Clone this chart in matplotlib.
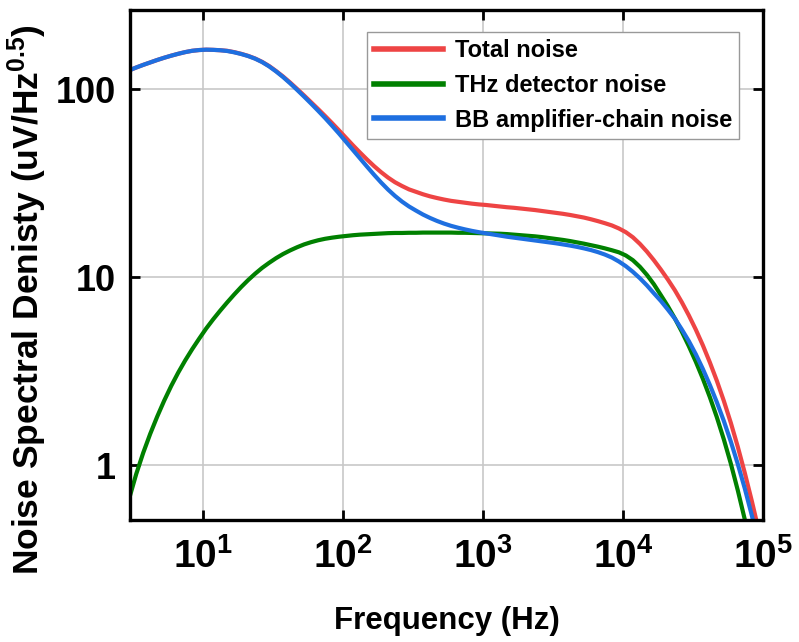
import numpy as np
import matplotlib
matplotlib.use("Agg")
import matplotlib.pyplot as plt

plt.rcParams['font.family'] = ['Liberation Sans', 'DejaVu Sans']
plt.rcParams['font.weight'] = 'bold'
plt.rcParams['mathtext.fontset'] = 'custom'
plt.rcParams['mathtext.rm'] = 'Liberation Sans:bold'
plt.rcParams['mathtext.bf'] = 'Liberation Sans:bold'
plt.rcParams['mathtext.default'] = 'bf'

# values, stored as log10 (Hz and uV/Hz^0.5)
log_freq = [0.47, 0.52, 0.57, 0.62, 0.67, 0.72, 0.77, 0.82, 0.87, 0.92,
            0.97, 1.02, 1.07, 1.12, 1.17, 1.22, 1.27, 1.32, 1.37, 1.42,
            1.47, 1.52, 1.57, 1.62, 1.67, 1.72, 1.77, 1.82, 1.87, 1.92,
            1.97, 2.02, 2.07, 2.12, 2.17, 2.22, 2.27, 2.32, 2.37, 2.42,
            2.47, 2.52, 2.57, 2.62, 2.67, 2.72, 2.77, 2.82, 2.87, 2.92,
            2.97, 3.02, 3.07, 3.12, 3.17, 3.22, 3.27, 3.32, 3.37, 3.42,
            3.47, 3.52, 3.57, 3.62, 3.67, 3.72, 3.77, 3.82, 3.87, 3.92,
            3.97, 4.02, 4.07, 4.12, 4.17, 4.22, 4.27, 4.32, 4.37, 4.42,
            4.47, 4.52, 4.57, 4.62, 4.67, 4.72, 4.77, 4.82, 4.87, 4.92,
            4.97, 5.00]

log_total = [2.102, 2.117, 2.131, 2.144, 2.157, 2.169, 2.180, 2.190, 2.199, 2.206,
             2.210, 2.212, 2.211, 2.209, 2.206, 2.199, 2.190, 2.179, 2.165, 2.147,
             2.125, 2.098, 2.069, 2.037, 2.003, 1.968, 1.932, 1.896, 1.859, 1.821,
             1.782, 1.742, 1.702, 1.664, 1.627, 1.592, 1.560, 1.531, 1.506, 1.486,
             1.468, 1.455, 1.442, 1.431, 1.422, 1.414, 1.407, 1.402, 1.397, 1.392,
             1.388, 1.385, 1.381, 1.377, 1.373, 1.370, 1.366, 1.362, 1.358, 1.353,
             1.348, 1.343, 1.338, 1.332, 1.325, 1.318, 1.309, 1.299, 1.288, 1.276,
             1.260, 1.240, 1.213, 1.178, 1.137, 1.091, 1.041, 0.988, 0.931, 0.867,
             0.797, 0.721, 0.638, 0.547, 0.449, 0.342, 0.225, 0.097, -0.042, -0.191,
             -0.350, -0.449]

log_thz = [-0.178, -0.048, 0.065, 0.166, 0.258, 0.343, 0.421, 0.492, 0.557, 0.617,
           0.673, 0.727, 0.776, 0.822, 0.866, 0.908, 0.948, 0.985, 1.019, 1.050,
           1.077, 1.102, 1.124, 1.143, 1.160, 1.175, 1.187, 1.197, 1.205, 1.211,
           1.216, 1.220, 1.224, 1.227, 1.229, 1.231, 1.233, 1.235, 1.236, 1.236,
           1.237, 1.237, 1.238, 1.238, 1.238, 1.238, 1.238, 1.237, 1.237, 1.236,
           1.235, 1.234, 1.233, 1.232, 1.230, 1.227, 1.224, 1.221, 1.218, 1.214,
           1.209, 1.204, 1.199, 1.193, 1.186, 1.179, 1.171, 1.163, 1.154, 1.144,
           1.133, 1.116, 1.091, 1.056, 1.013, 0.963, 0.905, 0.846, 0.781, 0.710,
           0.633, 0.550, 0.460, 0.362, 0.255, 0.137, 0.008, -0.135, -0.290, -0.455,
           -0.630, -0.738]

log_bb = [2.102, 2.117, 2.131, 2.144, 2.157, 2.169, 2.180, 2.190, 2.199, 2.206,
          2.210, 2.212, 2.211, 2.209, 2.205, 2.198, 2.189, 2.178, 2.164, 2.146,
          2.123, 2.096, 2.066, 2.033, 1.998, 1.962, 1.925, 1.887, 1.848, 1.807,
          1.765, 1.721, 1.677, 1.633, 1.589, 1.546, 1.505, 1.467, 1.433, 1.403,
          1.377, 1.355, 1.334, 1.316, 1.300, 1.286, 1.274, 1.264, 1.255, 1.247,
          1.240, 1.234, 1.228, 1.222, 1.216, 1.211, 1.206, 1.201, 1.196, 1.191,
          1.186, 1.181, 1.175, 1.169, 1.162, 1.154, 1.145, 1.134, 1.121, 1.105,
          1.084, 1.059, 1.029, 0.995, 0.957, 0.915, 0.874, 0.828, 0.780, 0.722,
          0.660, 0.590, 0.512, 0.427, 0.335, 0.235, 0.125, 0.005, -0.125, -0.268,
          -0.420, -0.515]

labels = ['Total noise', 'THz detector noise', 'BB amplifier-chain noise']
colors = ['#EE4444', '#008000', '#1E6FE0']

xticks = [10, 100, 1000, 10000, 100000]
xticklabels = [r'$\mathbf{10^{1}}$', r'$\mathbf{10^{2}}$', r'$\mathbf{10^{3}}$',
               r'$\mathbf{10^{4}}$', r'$\mathbf{10^{5}}$']
yticks = [1, 10, 100]
yticklabels = ['1', '10', '100']

freq = 10 ** np.array(log_freq)

fig = plt.figure(figsize=(7.99, 6.42), dpi=100)
ax = fig.add_axes([130 / 799, 1 - 520 / 642, 633 / 799, 510 / 642])

for data, lab, col in zip([log_total, log_thz, log_bb], labels, colors):
    ax.plot(freq, 10 ** np.array(data), color=col, lw=3, label=lab)

ax.set_xscale('log')
ax.set_yscale('log')
ax.set_xlim(2.99, 1e5)
ax.set_ylim(0.51, 265)

ax.set_xticks(xticks)
ax.set_xticklabels(xticklabels, fontsize=28)
ax.set_yticks(yticks)
ax.set_yticklabels(yticklabels, fontsize=26)
ax.minorticks_off()
ax.tick_params(which='major', direction='in', length=7, width=2,
               top=True, right=True)
ax.tick_params(axis='x', pad=13)
ax.tick_params(axis='y', pad=10)

for s in ax.spines.values():
    s.set_linewidth(2.4)

ax.grid(True, color='#c8c8c8', lw=1.2)
ax.set_axisbelow(True)

ax.set_xlabel('Frequency (Hz)', fontsize=22.5, fontweight='bold', labelpad=22)
ax.set_ylabel(r'Noise Spectral Denisty (uV/Hz$^{\mathbf{0.5}}$)', fontsize=25.5,
              fontweight='bold')
ax.yaxis.set_label_coords(-0.128, 0.432)

leg = ax.legend(loc='upper right', bbox_to_anchor=(0.962, 0.957),
                borderaxespad=0, handlelength=2.9, labelspacing=0.5,
                borderpad=0.3, handletextpad=0.5, fancybox=False,
                framealpha=1, edgecolor='#999999',
                prop={'weight': 'bold', 'size': 17})
leg.get_frame().set_linewidth(1.0)
for line in leg.get_lines():
    line.set_linewidth(4)

fig.savefig('out.png', dpi=100)
